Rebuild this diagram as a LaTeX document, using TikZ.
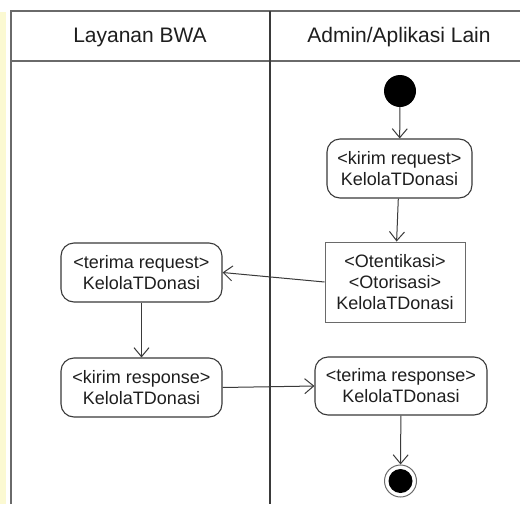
\documentclass[tikz,border=0pt]{standalone}
\usepackage{fontspec}
\setmainfont{Liberation Sans}
\usetikzlibrary{arrows.meta}
\definecolor{ln}{HTML}{3A3A3A}
\definecolor{fr}{HTML}{6A6A6A}
\definecolor{tx}{HTML}{1E1E1E}
\definecolor{wm}{HTML}{FBF9D2}
\tikzset{
  act/.style={draw=ln, line width=1.1pt, rounded corners=13pt, align=center, text=tx,
    font=\fontsize{18}{21}\selectfont, inner sep=0pt},
  sqact/.style={draw=fr, line width=1pt, align=center, text=tx,
    font=\fontsize{18}{21}\selectfont, inner sep=0pt},
  flow/.style={draw=ln, line width=1pt, -{Straight Barb[length=9pt,width=15pt,line width=1pt]}},
  hdr/.style={text=tx, font=\fontsize{21}{24}\selectfont},
  lane/.style={draw=fr, line width=1.4pt}
}
\begin{document}
\begin{tikzpicture}[x=1pt,y=-1pt]
\useasboundingbox (0,0) rectangle (520,504);
\fill[white] (0,0) rectangle (520,504);
\fill[wm] (0,12) rectangle (6,504);
% swimlanes
\draw[lane] (11,504) -- (11,11) -- (520,11);
\draw[lane] (11,61) -- (520,61);
\draw[draw=ln, line width=1.2pt] (270,11) -- (270,504);
\node[hdr] (h1) at (140,37) {Layanan BWA};
\node[hdr] (h2) at (399,37) {Admin/Aplikasi Lain};
% nodes
\node[circle, fill=black, minimum size=32pt, inner sep=0pt] (start) at (400,91) {};
\node[act, minimum width=145pt, minimum height=59pt] (kreq) at (399.5,168.5) {<kirim request>\\KelolaTDonasi};
\node[sqact, minimum width=140pt, minimum height=80pt] (oto) at (395,282) {<Otentikasi>\\<Otorisasi>\\KelolaTDonasi};
\node[act, minimum width=161pt, minimum height=59pt] (treq) at (141.5,272.5) {<terima request>\\KelolaTDonasi};
\node[act, minimum width=161pt, minimum height=59pt] (kres) at (141.5,387.5) {<kirim response>\\KelolaTDonasi};
\node[act, minimum width=172pt, minimum height=58pt] (tres) at (401,386) {<terima response>\\KelolaTDonasi};
\node[circle, draw=fr, line width=1pt, fill=white, minimum size=32pt, inner sep=0pt] (end) at (400.5,481) {};
\node[circle, fill=black, minimum size=24pt, inner sep=0pt] (endin) at (end.center) {};
% flows
\draw[flow] (start) -- (kreq);
\draw[flow] (kreq) -- (oto);
\draw[flow] (oto.west) -- (treq.east);
\draw[flow] (treq) -- (kres);
\draw[flow] (kres.east) -- (tres.west);
\draw[flow] (tres) -- (end);
\end{tikzpicture}
\end{document}
